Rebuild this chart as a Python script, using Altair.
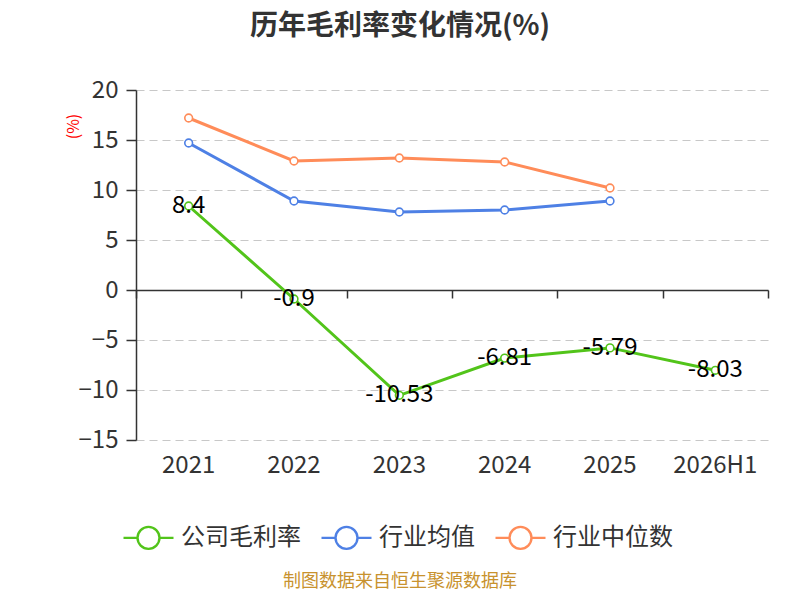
import altair as alt
import pandas as pd

# ---- data ----
years = ["2021", "2022", "2023", "2024", "2025", "2026H1"]
company = [8.4, -0.9, -10.53, -6.81, -5.79, -8.03]
company_labels = ["8.4", "-0.9", "-10.53", "-6.81", "-5.79", "-8.03"]
industry_years = ["2021", "2022", "2023", "2024", "2025"]
industry_mean = [14.7, 8.9, 7.8, 8.0, 8.9]
industry_median = [17.2, 12.9, 13.2, 12.8, 10.2]
series_names = ["公司毛利率", "行业均值", "行业中位数"]
series_colors = ["#52c41a", "#4e80e5", "#ff8c59"]
y_ticks = [-15, -10, -5, 0, 5, 10, 15, 20]
TITLE = "历年毛利率变化情况(%)"
SOURCE = "制图数据来自恒生聚源数据库"

rows = []
for y, v, l in zip(years, company, company_labels):
    rows.append({"year": y, "series": series_names[0], "value": v, "label": l})
for y, v in zip(industry_years, industry_mean):
    rows.append({"year": y, "series": series_names[1], "value": v, "label": ""})
for y, v in zip(industry_years, industry_median):
    rows.append({"year": y, "series": series_names[2], "value": v, "label": ""})
df = pd.DataFrame(rows)
df_company = df[df["series"] == series_names[0]]

FONT = "Noto Sans CJK SC"
W, H = 632, 350

xscale = alt.Scale(type="band", domain=years, paddingInner=0, paddingOuter=0)
yscale = alt.Scale(domain=[-15, 20], nice=False, zero=False)
cscale = alt.Scale(domain=series_names, range=series_colors)

label_axis = alt.Axis(orient="bottom", title=None, domain=False, ticks=False,
                      labelAngle=0, labelFontSize=24, labelColor="#333",
                      labelPadding=13, labelFont=FONT, grid=False)
zero_axis = alt.Axis(orient="bottom", title=None, labels=False, domain=True,
                     domainColor="#333", domainWidth=1.5, ticks=True,
                     tickBand="extent", tickSize=8, tickColor="#333", tickWidth=1.5,
                     offset=-150, grid=False)
y_axis = alt.Axis(values=y_ticks, title="(%)", titleColor="red", titleFontSize=16,
                  titleFontWeight="normal", titleFont=FONT, titleX=-63, titleY=36,
                  titleAngle=270, titleAlign="center", titleBaseline="middle",
                  labelFontSize=24, labelColor="#333", labelFont=FONT, labelPadding=8,
                  tickSize=10, tickColor="#333", tickWidth=1.5, domainColor="#333",
                  domainWidth=1.5, grid=True, gridDash=[8, 5], gridColor="#c8c8c8",
                  gridWidth=1.2)

PATH = "M-1,0L-0.44,0M0.44,0L1,0M0.44,0A0.44,0.44,0,1,1,-0.44,0A0.44,0.44,0,1,1,0.44,0Z"
legend = alt.Legend(title=None, orient="none", legendX=-14, legendY=421,
                    direction="horizontal", symbolType=PATH, symbolSize=2500,
                    symbolStrokeWidth=2.4, symbolFillColor="white", symbolOpacity=1,
                    labelFontSize=24, labelColor="#333", labelFont=FONT,
                    labelOffset=6, columnPadding=15)

base = alt.Chart(df)

zero_layer = base.mark_point(opacity=0).encode(
    x=alt.X("year:N", scale=xscale, axis=zero_axis),
    y=alt.Y("value:Q", scale=yscale, axis=y_axis),
)

lines = base.mark_line(strokeWidth=3).encode(
    x=alt.X("year:N", scale=xscale, axis=label_axis, bandPosition=0.5),
    y=alt.Y("value:Q", scale=yscale),
    color=alt.Color("series:N", scale=cscale, legend=legend, sort=series_names),
)

points = base.mark_point(shape="circle", filled=True, fill="white", size=60,
                         strokeWidth=1.6, opacity=1).encode(
    x=alt.X("year:N", scale=xscale, bandPosition=0.5, axis=None),
    y=alt.Y("value:Q", scale=yscale),
    stroke=alt.Stroke("series:N", scale=cscale, legend=None),
)

labels = alt.Chart(df_company).mark_text(fontSize=24, color="black", font=FONT,
                                         baseline="middle", align="center").encode(
    x=alt.X("year:N", scale=xscale, bandPosition=0.5, axis=None),
    y=alt.Y("value:Q", scale=yscale),
    text="label:N",
)

title = alt.Chart(pd.DataFrame({"t": [TITLE]})).mark_text(
    fontSize=28, fontWeight="bold", color="#333", font=FONT, baseline="middle"
).encode(x=alt.value(264), y=alt.value(-63), text="t:N")

source = alt.Chart(pd.DataFrame({"t": [SOURCE]})).mark_text(
    fontSize=18, color="#c8922e", font=FONT, baseline="middle"
).encode(x=alt.value(264), y=alt.value(492), text="t:N")

chart = alt.layer(zero_layer, lines, points, labels, title, source).resolve_axis(
    x="independent"
).properties(
    width=W, height=H,
    autosize=alt.AutoSizeParams(type="none"),
    padding={"left": 128, "top": 82, "right": 24, "bottom": 152},
).configure_view(stroke=None)

chart.save("out.html", embed_options={"renderer": "svg", "actions": False})
